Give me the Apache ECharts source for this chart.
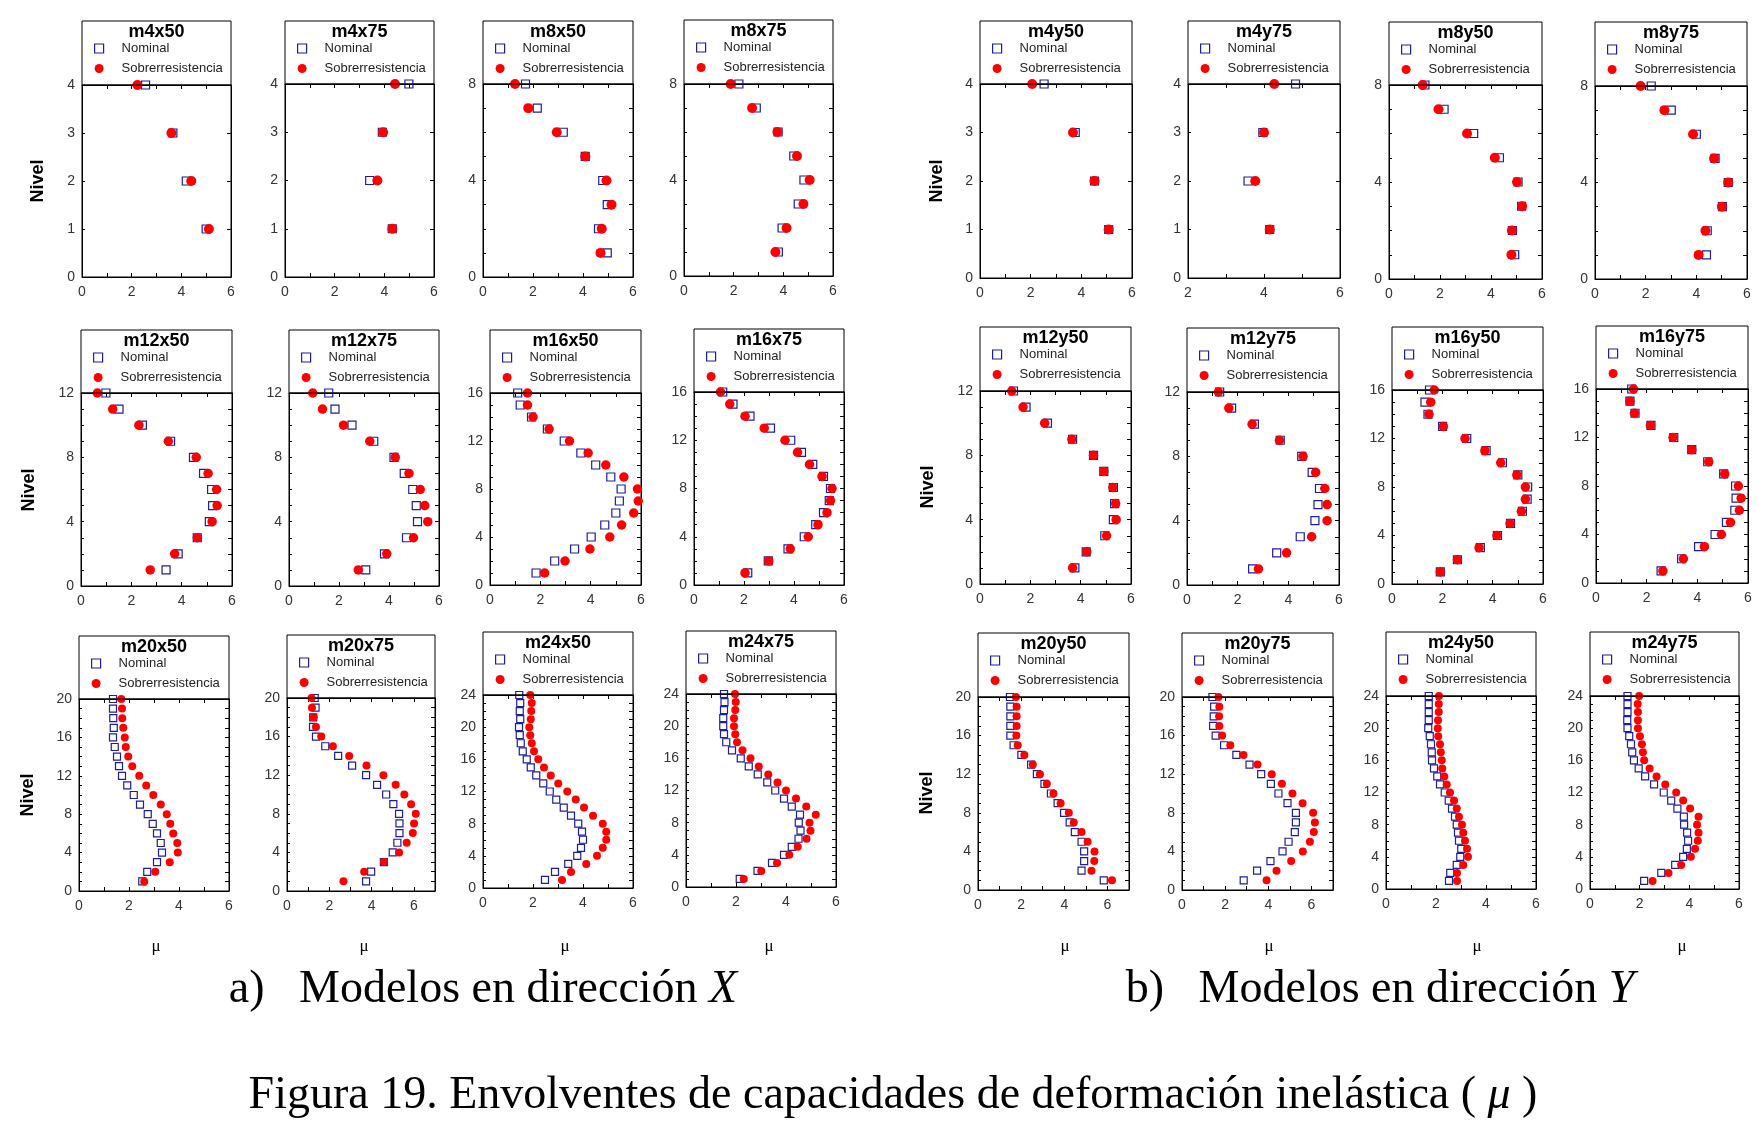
<!DOCTYPE html>
<html><head><meta charset="utf-8">
<script src="https://cdn.jsdelivr.net/npm/echarts@6/dist/echarts.min.js"></script>
<style>html,body{margin:0;padding:0;background:#fff}#c{width:1763px;height:1137px}</style>
</head><body><div id="c"></div>
<script>
// Values are listed from the top level (N) down to level 1
const m4x50_nom = [2.56, 3.66, 4.20, 5.00];
const m4x50_sob = [2.23, 3.60, 4.40, 5.11];
const m4x75_nom = [4.99, 3.92, 3.41, 4.32];
const m4x75_sob = [4.43, 3.95, 3.72, 4.32];
const m8x50_nom = [1.70, 2.17, 3.21, 4.09, 4.79, 4.97, 4.62, 4.97];
const m8x50_sob = [1.28, 1.81, 2.95, 4.09, 4.94, 5.14, 4.75, 4.70];
const m8x75_nom = [2.21, 2.91, 3.79, 4.42, 4.83, 4.60, 3.95, 3.80];
const m8x75_sob = [1.88, 2.74, 3.76, 4.55, 5.06, 4.81, 4.13, 3.68];
const m4y50_nom = [2.53, 3.76, 4.52, 5.08];
const m4y50_sob = [2.06, 3.67, 4.52, 5.08];
const m4y75_nom = [4.83, 3.97, 3.58, 4.15];
const m4y75_sob = [4.27, 4.00, 3.77, 4.15];
const m8y50_nom = [1.41, 2.16, 3.32, 4.33, 5.06, 5.20, 4.84, 4.93];
const m8y50_sob = [1.32, 1.94, 3.06, 4.15, 5.02, 5.22, 4.82, 4.80];
const m8y75_nom = [2.22, 3.01, 4.00, 4.74, 5.26, 5.03, 4.43, 4.40];
const m8y75_sob = [1.80, 2.74, 3.87, 4.70, 5.26, 5.01, 4.36, 4.09];

const m12x50_nom = [0.99,1.51,2.44,3.56,4.47,4.87,5.19,5.23,5.10,4.62,3.86,3.38];
const m12x50_sob = [0.65,1.26,2.30,3.47,4.58,5.05,5.39,5.41,5.21,4.62,3.72,2.75];
const m12x75_nom = [1.59,1.84,2.52,3.39,4.20,4.61,4.95,5.09,5.14,4.70,3.82,3.07];
const m12x75_sob = [0.95,1.34,2.18,3.23,4.25,4.80,5.25,5.43,5.55,4.98,3.91,2.77];
const m16x50_nom = [1.10,1.20,1.65,2.28,2.95,3.61,4.20,4.80,5.21,5.14,5.00,4.56,4.02,3.36,2.57,1.83];
const m16x50_sob = [1.49,1.49,1.71,2.35,3.16,3.90,4.60,5.32,5.86,5.89,5.71,5.23,4.76,3.97,2.98,2.17];
const m16x75_nom = [1.15,1.56,2.24,3.06,3.87,4.30,4.75,5.18,5.46,5.41,5.18,4.87,4.41,3.76,2.97,2.15];
const m16x75_sob = [1.06,1.43,2.04,2.81,3.64,4.14,4.62,5.12,5.52,5.46,5.32,4.96,4.57,3.85,2.99,2.04];
const m12y50_nom = [1.33,1.83,2.68,3.68,4.51,4.92,5.30,5.35,5.30,4.96,4.22,3.77];
const m12y50_sob = [1.26,1.71,2.57,3.65,4.51,4.92,5.28,5.39,5.41,5.03,4.24,3.68];
const m12y75_nom = [1.29,1.76,2.66,3.68,4.53,4.94,5.23,5.17,5.05,4.47,3.54,2.59];
const m12y75_sob = [1.24,1.65,2.57,3.65,4.58,5.08,5.44,5.53,5.53,4.92,3.93,2.82];
const m16y50_nom = [1.49,1.31,1.43,2.01,2.97,3.74,4.39,5.00,5.39,5.37,5.18,4.71,4.19,3.51,2.60,1.92];
const m16y50_sob = [1.68,1.54,1.47,2.04,2.90,3.69,4.32,4.96,5.30,5.30,5.14,4.69,4.17,3.46,2.60,1.92];
const m16y75_nom = [1.41,1.34,1.54,2.17,3.07,3.78,4.41,5.04,5.51,5.53,5.48,5.15,4.70,4.05,3.38,2.57];
const m16y75_sob = [1.48,1.34,1.52,2.15,3.04,3.78,4.45,5.08,5.62,5.73,5.66,5.31,4.95,4.28,3.45,2.64];

const m20x50_nom = [1.36,1.36,1.37,1.39,1.36,1.43,1.52,1.60,1.72,1.93,2.19,2.44,2.75,2.95,3.12,3.27,3.32,3.12,2.73,2.53];
const m20x50_sob = [1.69,1.72,1.73,1.77,1.83,1.87,1.97,2.13,2.41,2.69,2.97,3.27,3.51,3.65,3.77,3.93,3.95,3.63,3.05,2.61];
const m20x75_nom = [1.31,1.35,1.24,1.23,1.37,1.81,2.42,3.08,3.74,4.26,4.69,5.03,5.30,5.32,5.32,5.22,5.00,4.58,3.98,3.74];
const m20x75_sob = [1.16,1.18,1.26,1.37,1.62,2.17,2.94,3.76,4.56,5.14,5.55,5.87,6.09,6.01,5.95,5.66,5.30,4.59,3.65,2.67];
const m24x50_nom = [1.45,1.49,1.47,1.49,1.44,1.47,1.51,1.59,1.75,1.91,2.13,2.41,2.67,2.93,3.23,3.52,3.81,3.96,4.00,3.92,3.77,3.41,2.88,2.48];
const m24x50_sob = [1.89,1.95,1.93,1.91,1.85,1.89,1.95,2.04,2.21,2.44,2.71,3.01,3.37,3.71,4.04,4.40,4.79,4.93,4.93,4.79,4.56,4.13,3.52,3.16];
const m24x75_nom = [1.52,1.54,1.52,1.49,1.49,1.52,1.61,1.84,2.19,2.51,2.87,3.25,3.57,3.92,4.23,4.56,4.51,4.58,4.50,4.23,3.92,3.44,2.86,2.15];
const m24x75_sob = [1.96,1.99,1.97,1.92,1.92,1.97,2.04,2.26,2.58,2.91,3.29,3.66,4.00,4.40,4.81,5.19,4.94,4.98,4.82,4.47,4.13,3.64,3.01,2.31];
const m20y50_nom = [1.48,1.50,1.50,1.50,1.50,1.65,2.01,2.46,2.73,3.08,3.38,3.69,3.99,4.25,4.49,4.80,4.92,4.92,4.80,5.83];
const m20y50_sob = [1.76,1.79,1.79,1.79,1.78,1.84,2.15,2.54,2.87,3.19,3.50,3.83,4.21,4.44,4.80,5.08,5.40,5.39,5.26,6.21];
const m20y75_nom = [1.41,1.49,1.47,1.44,1.56,1.95,2.52,3.13,3.67,4.12,4.47,4.89,5.28,5.28,5.23,4.94,4.66,4.10,3.48,2.86];
const m20y75_sob = [1.69,1.73,1.72,1.73,1.86,2.24,2.85,3.50,4.16,4.63,5.12,5.59,6.08,6.16,6.11,5.93,5.60,5.06,4.38,3.92];
const m24y50_nom = [1.71,1.71,1.71,1.71,1.69,1.75,1.80,1.83,1.84,1.92,2.05,2.16,2.35,2.51,2.64,2.76,2.83,2.88,2.92,3.01,2.97,2.83,2.57,2.52];
const m24y50_sob = [2.12,2.11,2.11,2.08,2.07,2.09,2.16,2.19,2.23,2.25,2.33,2.43,2.56,2.72,2.83,2.92,3.04,3.09,3.16,3.24,3.28,3.09,2.84,2.84];
const m24y75_nom = [1.51,1.51,1.51,1.50,1.51,1.58,1.65,1.70,1.77,1.96,2.22,2.58,2.97,3.27,3.52,3.78,3.79,3.91,3.95,3.90,3.75,3.43,2.87,2.18];
const m24y75_sob = [1.98,1.92,1.93,1.93,1.93,2.01,2.09,2.13,2.18,2.40,2.68,3.03,3.47,3.75,4.03,4.37,4.31,4.37,4.34,4.23,4.06,3.67,3.16,2.52];

const seriesNames = ['Nominal', 'Sobrerresistencia'];
const axisTitleY = 'Nivel';
const axisTitleX = 'μ';
const captionA = 'a)   Modelos en dirección ';
const captionB = 'b)   Modelos en dirección ';
const figCaption = 'Figura 19. Envolventes de capacidades de deformación inelástica ( ';

// panel: name, nominal, sobre, x range, layout [left, right, boxTop, axisTop, bottom], row
const panels = [
  ['m4x50', m4x50_nom, m4x50_sob, 0, 6, [82,231,21,85,277], 0],
  ['m4x75', m4x75_nom, m4x75_sob, 0, 6, [285,434,21,84,277], 0],
  ['m8x50', m8x50_nom, m8x50_sob, 0, 6, [483,633,21,84,277], 0],
  ['m8x75', m8x75_nom, m8x75_sob, 0, 6, [684,833,20,84,276], 0],
  ['m4y50', m4y50_nom, m4y50_sob, 0, 6, [980,1132,21,84,278], 0],
  ['m4y75', m4y75_nom, m4y75_sob, 2, 6, [1188,1340,21,84,278], 0],
  ['m8y50', m8y50_nom, m8y50_sob, 0, 6, [1389,1542,22,85,279], 0],
  ['m8y75', m8y75_nom, m8y75_sob, 0, 6, [1595,1747,22,86,279], 0],
  ['m12x50', m12x50_nom, m12x50_sob, 0, 6, [81,232,330,393,586], 1],
  ['m12x75', m12x75_nom, m12x75_sob, 0, 6, [289,439,330,393,586], 1],
  ['m16x50', m16x50_nom, m16x50_sob, 0, 6, [490,641,330,393,585], 1],
  ['m16x75', m16x75_nom, m16x75_sob, 0, 6, [694,844,329,392,585], 1],
  ['m12y50', m12y50_nom, m12y50_sob, 0, 6, [980,1131,327,391,584], 1],
  ['m12y75', m12y75_nom, m12y75_sob, 0, 6, [1187,1339,328,392,585], 1],
  ['m16y50', m16y50_nom, m16y50_sob, 0, 6, [1392,1543,327,390,584], 1],
  ['m16y75', m16y75_nom, m16y75_sob, 0, 6, [1596,1748,326,389,583], 1],
  ['m20x50', m20x50_nom, m20x50_sob, 0, 6, [79,229,636,699,891], 2],
  ['m20x75', m20x75_nom, m20x75_sob, 0, 7, [287,435,635,698,891], 2],
  ['m24x50', m24x50_nom, m24x50_sob, 0, 6, [483,633,632,695,888], 2],
  ['m24x75', m24x75_nom, m24x75_sob, 0, 6, [686,836,631,694,887], 2],
  ['m20y50', m20y50_nom, m20y50_sob, 0, 7, [978,1129,633,697,890], 2],
  ['m20y75', m20y75_nom, m20y75_sob, 0, 7, [1182,1333,633,697,890], 2],
  ['m24y50', m24y50_nom, m24y50_sob, 0, 6, [1386,1536,632,696,889], 2],
  ['m24y75', m24y75_nom, m24y75_sob, 0, 6, [1590,1739,632,696,889], 2]
];

const BLUE = '#1e1e9a', RED = '#ff0000';
const SANS = "'Liberation Sans', Arial, sans-serif";
const SERIF = "'Liberation Serif', 'Times New Roman', serif";
const symSizes = [[8, 10], [8, 9.5], [7, 8]];

const grid = [], xAxis = [], yAxis = [], series = [], legend = [], graphic = [];

panels.forEach((p, i) => {
  const [name, nom, sob, xmin, xmax, g, row] = p;
  const [L, R, BT, AT, B] = g;
  const N = nom.length;
  const yStep = N === 4 ? 1 : 4;
  grid.push({left: L, top: AT, width: R - L, height: B - AT, show: true,
    borderColor: '#000', borderWidth: 1, backgroundColor: 'transparent', containLabel: false, outerBoundsMode: 'none'});
  const tickStyle = {color: '#000', width: 1};
  xAxis.push({gridIndex: i, type: 'value', min: xmin, max: xmax, interval: 1, position: 'bottom',
    axisLine: {show: true, onZero: false, lineStyle: {color: '#000'}},
    axisTick: {show: true, inside: true, length: 4, lineStyle: tickStyle},
    axisLabel: {show: true, margin: 8, fontSize: 14, color: '#333', fontFamily: SANS,
      formatter: v => (Math.round(v) % 2 === 0 ? String(v) : '')},
    splitLine: {show: false}});
  xAxis.push({gridIndex: i, type: 'value', min: xmin, max: xmax, interval: 1, position: 'top',
    axisLine: {show: true, onZero: false, lineStyle: {color: '#000'}},
    axisTick: {show: true, inside: true, length: 4, lineStyle: tickStyle},
    axisLabel: {show: false}, splitLine: {show: false}});
  yAxis.push({gridIndex: i, type: 'value', min: 0, max: N, interval: 1, position: 'left',
    axisLine: {show: true, onZero: false, lineStyle: {color: '#000'}},
    axisTick: {show: true, inside: true, length: 3, lineStyle: tickStyle},
    axisLabel: {show: true, margin: 7, fontSize: 14, color: '#333', fontFamily: SANS,
      formatter: v => (Math.round(v) % yStep === 0 ? String(v) : '')},
    splitLine: {show: false}});
  yAxis.push({gridIndex: i, type: 'value', min: 0, max: N, interval: 1, position: 'right',
    axisLine: {show: true, onZero: false, lineStyle: {color: '#000'}},
    axisTick: {show: true, inside: true, length: 4, lineStyle: tickStyle},
    axisLabel: {show: false}, splitLine: {show: false}});
  const [sq, ci] = symSizes[row];
  series.push({type: 'scatter', name: seriesNames[0], xAxisIndex: 2 * i, yAxisIndex: 2 * i,
    symbol: 'rect', symbolSize: sq, silent: true,
    itemStyle: {color: 'rgba(0,0,0,0)', borderColor: BLUE, borderWidth: 1.2, opacity: 1},
    data: nom.map((v, k) => [v, N - k])});
  series.push({type: 'scatter', name: seriesNames[1], xAxisIndex: 2 * i, yAxisIndex: 2 * i,
    symbol: 'circle', symbolSize: ci, silent: true,
    itemStyle: {color: RED, borderWidth: 0, opacity: 1},
    data: sob.map((v, k) => [v, N - k])});
  legend.push({left: L + 12, top: BT + 21, orient: 'vertical', padding: 0, itemGap: 7,
    itemWidth: 9, itemHeight: 9, selectedMode: false,
    textStyle: {fontSize: 13, color: '#222', fontFamily: SANS, padding: [0, 0, 0, 13]},
    data: [
      {name: seriesNames[0], icon: 'rect', itemStyle: {color: 'rgba(0,0,0,0)', borderColor: BLUE, borderWidth: 1.2, opacity: 1}},
      {name: seriesNames[1], icon: 'circle', itemStyle: {color: RED, borderWidth: 0, opacity: 1}}
    ]});
  graphic.push({type: 'rect', silent: true, z: 10,
    shape: {x: L, y: BT, width: R - L, height: AT - BT},
    style: {fill: 'none', stroke: '#000', lineWidth: 1}});
  graphic.push({type: 'text', silent: true, z: 10, x: (L + R) / 2, y: BT + 11,
    style: {text: name, font: 'bold 18px ' + SANS, fill: '#000', align: 'center', verticalAlign: 'middle',
      textAlign: 'center', textVerticalAlign: 'middle'}});
});

// Nivel labels
[[38,181],[937,181],[29,490],[928,487],[28,795],[927,793]].forEach(([x, y]) => {
  graphic.push({type: 'text', silent: true, x: x, y: y, rotation: Math.PI / 2,
    style: {text: axisTitleY, font: 'bold 18px ' + SANS, fill: '#000', align: 'center', verticalAlign: 'middle',
      textAlign: 'center', textVerticalAlign: 'middle'}});
});
// mu labels
[156, 364, 565, 769, 1065, 1269, 1477, 1682].forEach(x => {
  graphic.push({type: 'text', silent: true, x: x, y: 947,
    style: {text: axisTitleX, font: '17px ' + SERIF, fill: '#000', align: 'center', verticalAlign: 'middle',
      textAlign: 'center', textVerticalAlign: 'middle'}});
});
const capRich = {
  n: {fontFamily: SERIF, fontSize: 46, color: '#000'},
  i: {fontFamily: SERIF, fontSize: 46, fontStyle: 'italic', color: '#000'}
};
graphic.push({type: 'text', silent: true, x: 483, y: 990,
  style: {text: '{n|' + captionA + '}{i|X}', rich: capRich, align: 'center', verticalAlign: 'middle',
    textAlign: 'center', textVerticalAlign: 'middle'}});
graphic.push({type: 'text', silent: true, x: 1380, y: 990,
  style: {text: '{n|' + captionB + '}{i|Y}', rich: capRich, align: 'center', verticalAlign: 'middle',
    textAlign: 'center', textVerticalAlign: 'middle'}});
const figRich = {
  n: {fontFamily: SERIF, fontSize: 46, color: '#000'},
  i: {fontFamily: SERIF, fontSize: 46, fontStyle: 'italic', color: '#000'}
};
graphic.push({type: 'text', silent: true, x: 893, y: 1096,
  style: {text: '{n|' + figCaption + '}{i|μ}{n| )}', rich: figRich, align: 'center', verticalAlign: 'middle',
    textAlign: 'center', textVerticalAlign: 'middle'}});

const chart = echarts.init(document.getElementById('c'), null, {renderer: 'canvas'});
chart.setOption({
  backgroundColor: '#fff',
  animation: false,
  grid, xAxis, yAxis, series, legend, graphic
});
</script></body></html>
